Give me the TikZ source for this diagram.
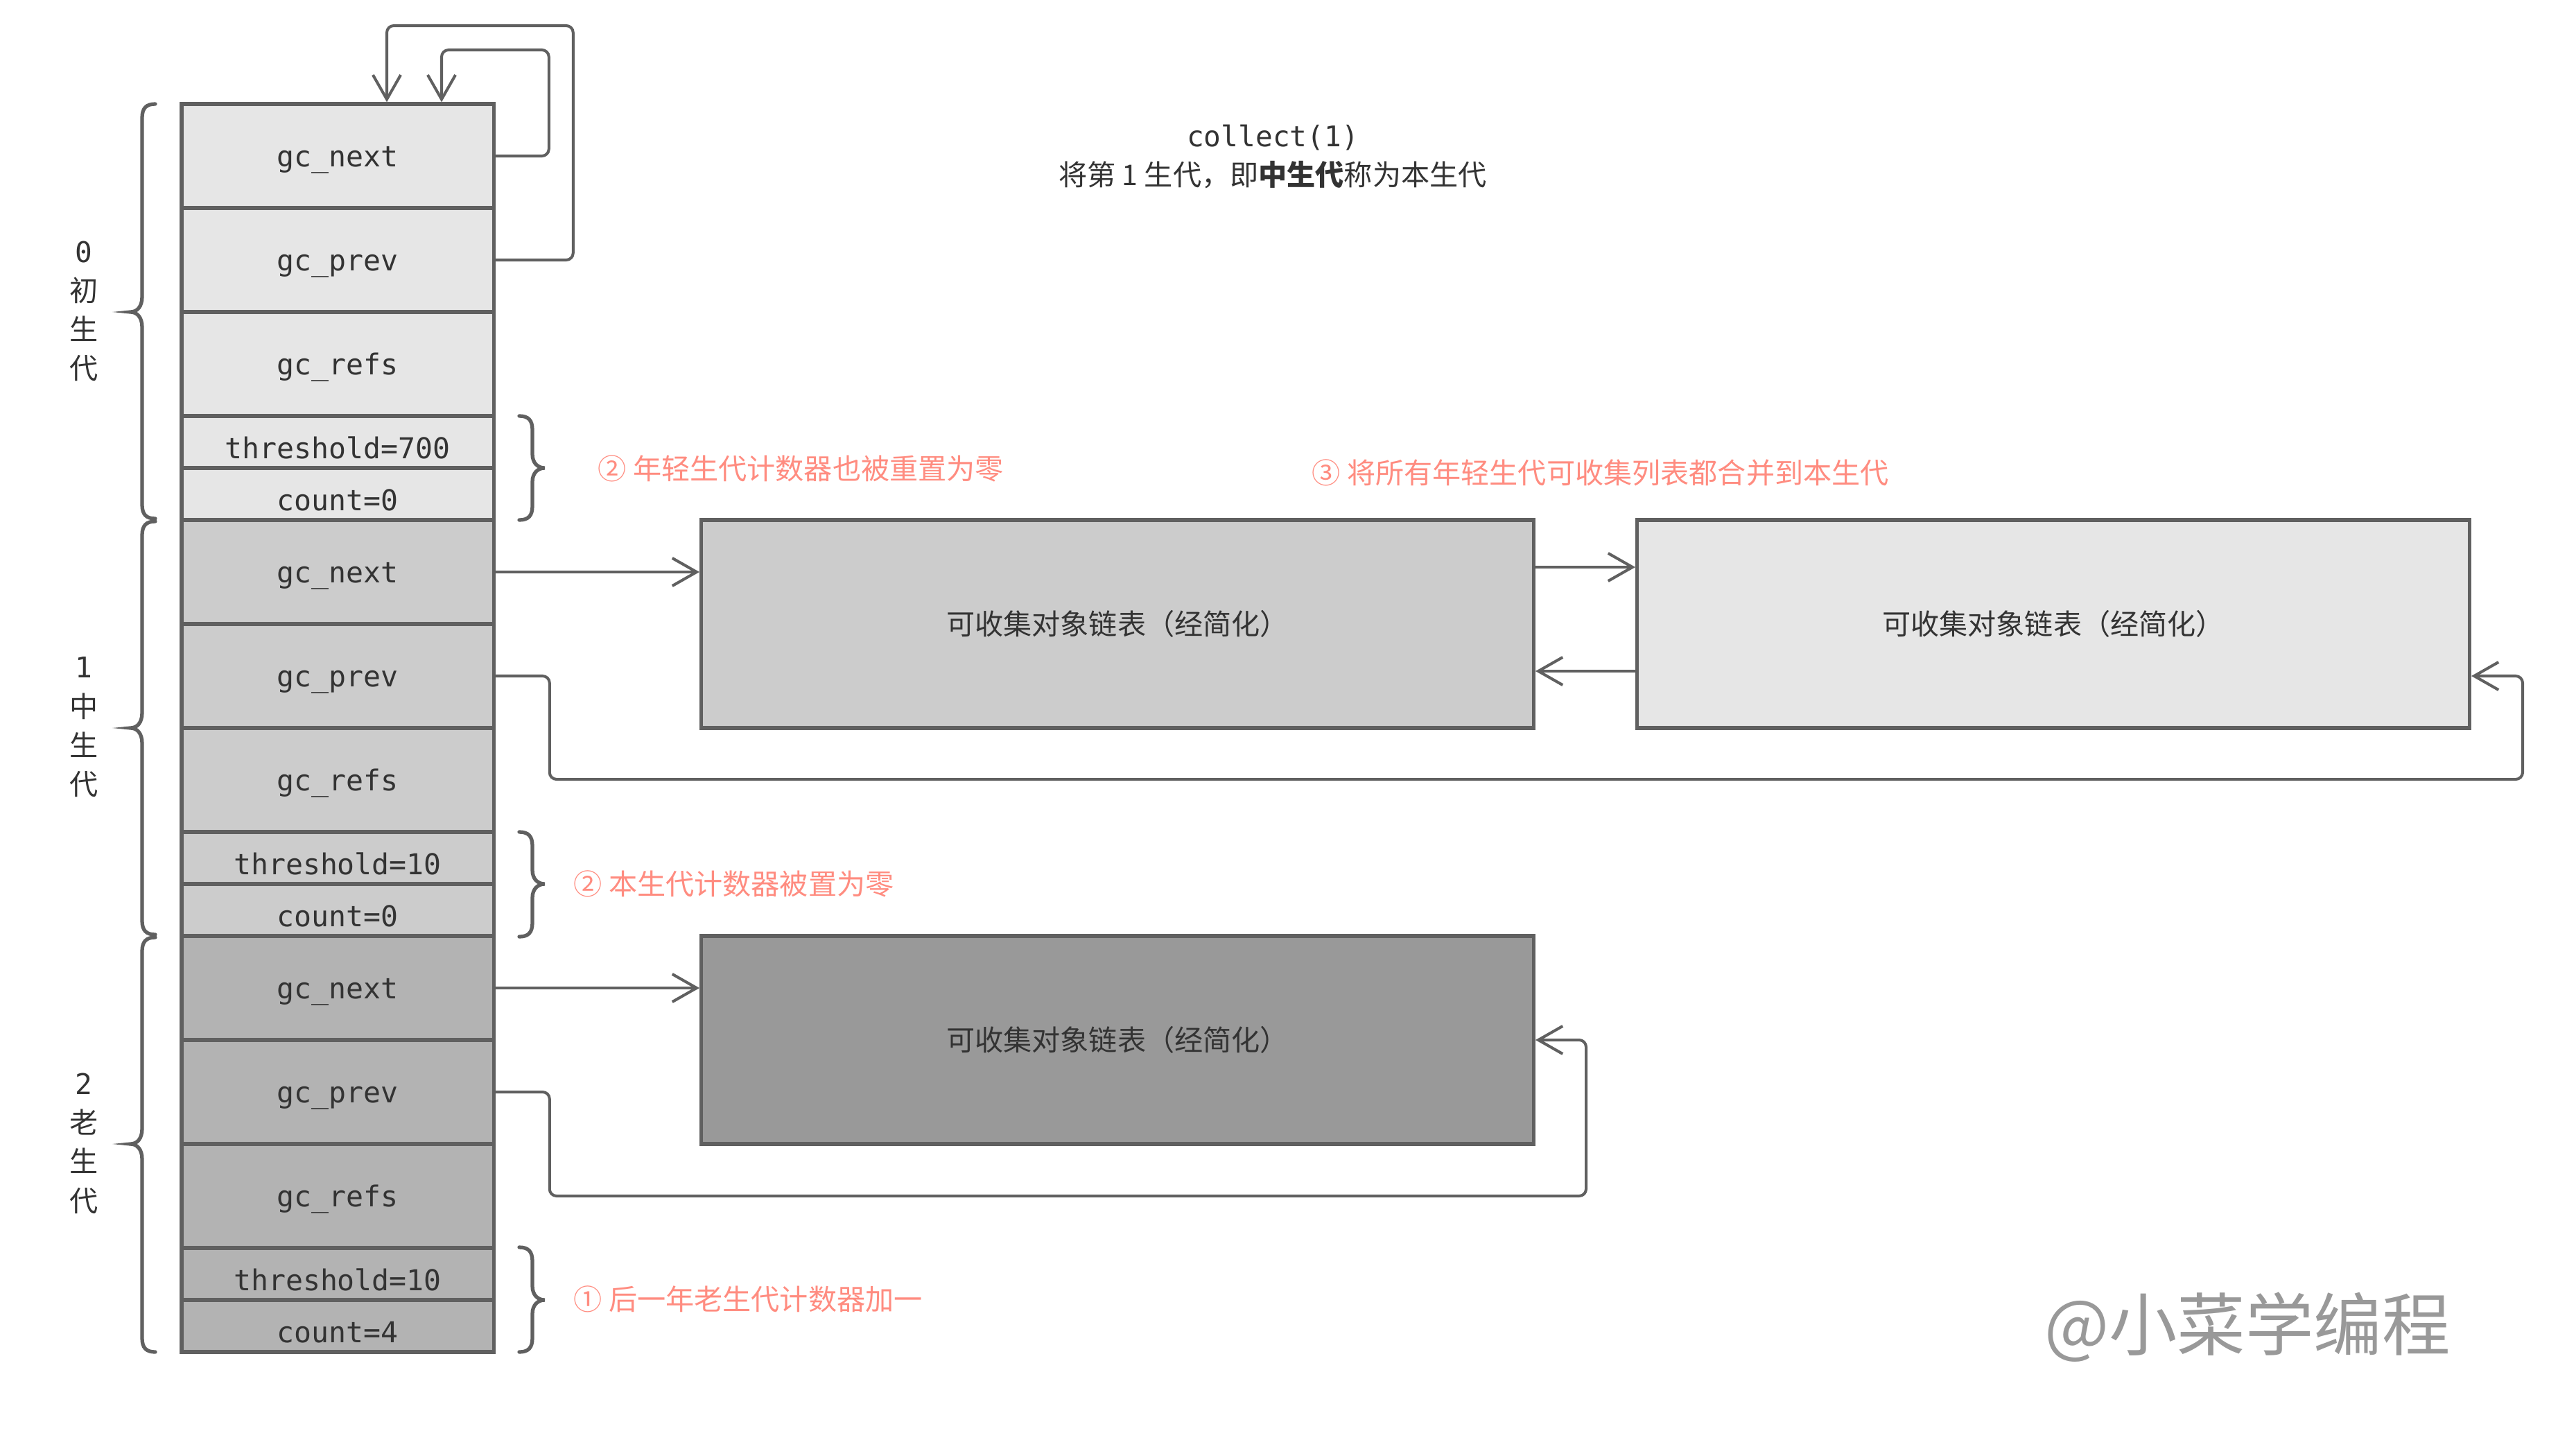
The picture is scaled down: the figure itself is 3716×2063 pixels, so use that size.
\documentclass[tikz,border=0pt]{standalone}
\usepackage{fontspec}
\setmainfont{Noto Sans CJK SC}
\setmonofont{DejaVu Sans Mono}
\usetikzlibrary{arrows.meta,calc}
\definecolor{bord}{HTML}{606060}
\definecolor{cz}{HTML}{E6E6E6}
\definecolor{co}{HTML}{CCCCCC}
\definecolor{ct}{HTML}{B3B3B3}
\definecolor{cf}{HTML}{999999}
\definecolor{txt}{HTML}{333333}
\definecolor{annocol}{HTML}{FF8C80}
\newcommand\mylbrace[3]{% y0, ym, y1
  \draw[bracestyle] (224,#1) .. controls (211,#1) and (205,#1+6) .. (205,#1+20)
    -- (205,#2-22) .. controls (205,#2-8) and (198,#2) .. (188,#2)
    .. controls (198,#2) and (205,#2+8) .. (205,#2+22)
    -- (205,#3-20) .. controls (205,#3-6) and (211,#3) .. (224,#3);}
\newcommand\myrbrace[3]{%
  \draw[bracestyle] (749,#1) .. controls (762,#1) and (768,#1+6) .. (768,#1+20)
    -- (768,#2-20) .. controls (768,#2-7) and (776,#2) .. (786,#2)
    .. controls (776,#2) and (768,#2+7) .. (768,#2+20)
    -- (768,#3-20) .. controls (768,#3-6) and (762,#3) .. (749,#3);}
\begin{document}
\begin{tikzpicture}[x=0.01cm,y=-0.01cm,
  cell/.style={draw=bord, line width=1.5pt, minimum width=4.5cm, inner sep=0pt,
    font=\fontsize{11.8pt}{14pt}\ttfamily, text=txt},
  bigcell/.style={cell, minimum height=1.5cm, text height=11pt, text depth=2.2pt},
  smallcell/.style={cell, minimum height=0.75cm, text height=13.5pt, text depth=0pt},
  listbox/.style={draw=bord, line width=1.5pt, minimum width=12cm, minimum height=3cm,
    inner sep=0pt, font=\fontsize{11.7pt}{14pt}\selectfont, text=txt},
  conn/.style={draw=bord, line width=1.15pt, rounded corners=2.85pt,
    -{Straight Barb[length=10pt,width=11.4pt]}},
  bracestyle/.style={draw=bord, line width=1.5pt, line cap=round},
  genlabel/.style={align=center, font=\fontsize{11.7pt}{16pt}\selectfont, text=txt, inner sep=0pt},
  annotext/.style={anchor=west, inner sep=0pt, text=annocol, font=\fontsize{11.7pt}{14pt}\selectfont},
  titletext/.style={inner sep=0pt, text=txt, font=\fontsize{11.7pt}{14pt}\selectfont}]
\useasboundingbox (0,0) rectangle (3716,2063);
\fill[white] (0,0) rectangle (3716,2063);

% generation 0
\node[bigcell, fill=cz] (g0next) at (487,225) {gc\_next};
\node[bigcell, fill=cz] (g0prev) at (487,375) {gc\_prev};
\node[bigcell, fill=cz] (g0refs) at (487,525) {gc\_refs};
\node[smallcell, fill=cz] (g0thr) at (487,637.5) {threshold=700};
\node[smallcell, fill=cz] (g0cnt) at (487,712.5) {count=0};
% generation 1
\node[bigcell, fill=co] (g1next) at (487,825) {gc\_next};
\node[bigcell, fill=co] (g1prev) at (487,975) {gc\_prev};
\node[bigcell, fill=co] (g1refs) at (487,1125) {gc\_refs};
\node[smallcell, fill=co] (g1thr) at (487,1237.5) {threshold=10};
\node[smallcell, fill=co] (g1cnt) at (487,1312.5) {count=0};
% generation 2
\node[bigcell, fill=ct] (g2next) at (487,1425) {gc\_next};
\node[bigcell, fill=ct] (g2prev) at (487,1575) {gc\_prev};
\node[bigcell, fill=ct] (g2refs) at (487,1725) {gc\_refs};
\node[smallcell, fill=ct] (g2thr) at (487,1837.5) {threshold=10};
\node[smallcell, fill=ct] (g2cnt) at (487,1912.5) {count=4};

% lists
\node[listbox, fill=co] (listA) at (1612,900) {可收集对象链表（经简化）};
\node[listbox, fill=cz] (listB) at (2962,900) {可收集对象链表（经简化）};
\node[listbox, fill=cf] (listC) at (1612,1500) {可收集对象链表（经简化）};

% labels
\node[genlabel] (lab0) at (121,449) {{\ttfamily 0}\\初\\生\\代};
\node[genlabel] (lab1) at (121,1049) {{\ttfamily 1}\\中\\生\\代};
\node[genlabel] (lab2) at (121,1649) {{\ttfamily 2}\\老\\生\\代};

% braces
\mylbrace{150}{450}{748}
\mylbrace{752}{1050}{1348}
\mylbrace{1352}{1650}{1950}
\myrbrace{600}{675}{750}
\myrbrace{1200}{1275}{1351}
\myrbrace{1799}{1875}{1950}

% title
\node[titletext] (title1) at (1836,198) {\ttfamily collect(1)};
\node[titletext] (title2) at (1836,252) {将第 1 生代，即\textbf{中生代}称为本生代};

% annotations
\node[annotext] (an1) at (862,676) {② 年轻生代计数器也被重置为零};
\node[annotext] (an2) at (1892,682) {③ 将所有年轻生代可收集列表都合并到本生代};
\node[annotext] (an3) at (827,1275) {② 本生代计数器被置为零};
\node[annotext] (an4) at (827,1874) {① 后一年老生代计数器加一};

% watermark
\node[inner sep=0pt, text=cf, font=\fontsize{28pt}{32pt}\selectfont] (wm) at (3242,1914) {@小菜学编程};

% connectors
\coordinate (in1) at (637,0);
\coordinate (in2) at (558,0);
\draw[conn] (g0next.east) -- ++(77,0) -- ++(0,-153) -| (in1 |- g0next.north);
\draw[conn] (g0prev.east) -- ++(112,0) -- ++(0,-338) -| (in2 |- g0next.north);
\draw[conn] (g1next.east) -- (g1next.east -| listA.west);
\draw[conn] (g2next.east) -- (g2next.east -| listC.west);
\coordinate (ab) at ($(listA.east)+(0,-82)$);
\draw[conn] (ab) -- (ab -| listB.west);
\coordinate (ba) at ($(listB.west)+(0,68)$);
\draw[conn] (ba) -- (ba -| listA.east);
\coordinate (bin) at ($(listB.east)+(0,75)$);
\draw[conn] (g1prev.east) -- ++(78,0) -- ++(0,149) -| ($(bin)+(74,0)$) -- (bin);
\coordinate (cin) at (listC.east);
\draw[conn] (g2prev.east) -- ++(78,0) -- ++(0,150) -| ($(cin)+(73,0)$) -- (cin);
\end{tikzpicture}
\end{document}
